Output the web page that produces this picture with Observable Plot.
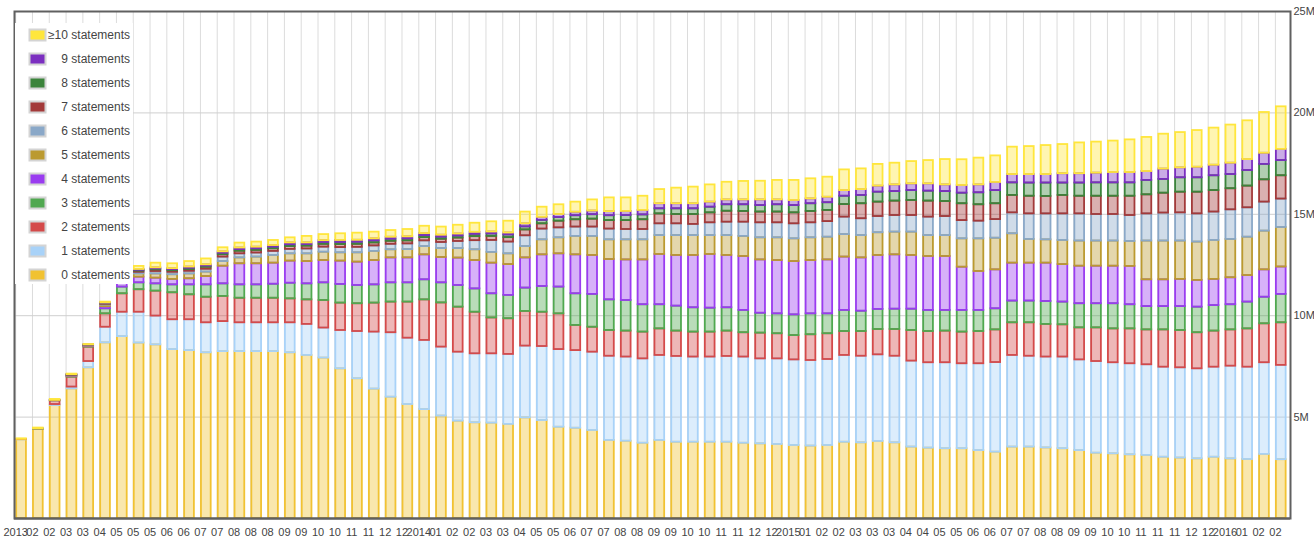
<!DOCTYPE html>
<html><head><meta charset="utf-8">
<script src="https://cdn.jsdelivr.net/npm/d3@7"></script>
<script src="https://cdn.jsdelivr.net/npm/@observablehq/plot@0.6"></script>
<style>
html,body{margin:0;padding:0;background:#fff;}
#chart{position:relative;width:1314px;height:539px;}
</style></head><body><div id="chart"></div>
<script>
const seriesNames = ["0 statements","1 statements","2 statements","3 statements","4 statements","5 statements","6 statements","7 statements","8 statements","9 statements","≥10 statements"];
const seriesColors = ["#f1c232","#a8d2f8","#d44a4a","#50a850","#9a3cf0","#bb9a30","#8aa8c8","#a33a3a","#3b843b","#7b2fc0","#ffe63c"];
const dateLabels = [
 "2013","02","02","03","03","04","05","05","05","06","06","07","07","08","08","08","09","09","10","10","11","11","12","12",
 "2014","01","02","02","03","03","04","05","05","06","07","07","08","08","09","09","10","10","11","11","12","12",
 "2015","01","02","02","03","03","03","04","04","05","05","06","06","07","07","08","08","09","09","10","10","11","11","11","12","12",
 "2016","01","02","02"];
// values in millions
const s0 = [3.88,4.39,5.57,6.39,7.43,8.66,8.97,8.65,8.56,8.33,
 8.28,8.17,8.23,8.23,8.23,8.23,8.17,8.04,7.91,7.38,
 6.89,6.38,5.98,5.62,5.37,5.05,4.80,4.72,4.70,4.64,
 4.96,4.83,4.50,4.45,4.34,3.85,3.81,3.71,3.85,3.76,
 3.76,3.76,3.76,3.71,3.68,3.65,3.60,3.57,3.60,3.76,
 3.73,3.80,3.73,3.52,3.47,3.44,3.44,3.35,3.27,3.52,
 3.52,3.48,3.44,3.35,3.22,3.19,3.14,3.11,3.02,2.98,
 2.94,3.02,2.94,2.91,3.16,2.90];
const s1 = [0.01,0.01,0.05,0.09,0.31,0.77,1.20,1.52,1.42,1.47,
 1.52,1.48,1.48,1.42,1.42,1.42,1.48,1.53,1.48,1.89,
 2.33,2.81,3.18,3.27,3.41,3.40,3.40,3.40,3.42,3.45,
 3.54,3.65,3.83,3.83,3.86,4.15,4.15,4.16,4.19,4.23,
 4.20,4.20,4.23,4.25,4.19,4.22,4.22,4.22,4.24,4.28,
 4.27,4.27,4.27,4.24,4.21,4.24,4.19,4.28,4.42,4.52,
 4.48,4.48,4.52,4.47,4.52,4.49,4.49,4.47,4.44,4.45,
 4.44,4.44,4.57,4.55,4.52,4.65];
const s2 = [0.01,0.01,0.18,0.49,0.71,0.66,0.91,1.11,1.23,1.33,
 1.23,1.26,1.24,1.21,1.21,1.21,1.18,1.21,1.36,1.35,
 1.37,1.43,1.51,1.78,2.00,2.18,2.22,2.05,1.77,1.76,
 1.71,1.69,1.76,1.24,1.23,1.27,1.28,1.32,1.31,1.25,
 1.23,1.23,1.25,1.20,1.27,1.24,1.20,1.27,1.27,1.18,
 1.22,1.25,1.32,1.51,1.54,1.56,1.56,1.59,1.61,1.61,
 1.65,1.61,1.59,1.58,1.66,1.67,1.72,1.72,1.84,1.84,
 1.78,1.78,1.79,1.89,1.92,2.10];
const s3 = [0,0.01,0.01,0.03,0.03,0.25,0.33,0.34,0.36,0.39,
 0.49,0.61,0.62,0.66,0.66,0.69,0.77,0.79,0.87,0.92,
 0.90,0.90,0.95,0.95,0.99,0.99,1.07,1.15,1.19,1.15,
 1.15,1.27,1.32,1.56,1.62,1.51,1.51,1.35,1.19,1.23,
 1.20,1.18,1.15,1.10,0.98,0.98,1.02,1.03,0.98,1.04,
 1.00,0.99,1.00,1.05,1.04,1.02,1.07,1.04,1.04,1.07,
 1.07,1.13,1.12,1.19,1.19,1.24,1.19,1.15,1.15,1.18,
 1.26,1.26,1.24,1.32,1.31,1.40];
const s4 = [0,0,0.01,0.02,0.02,0.11,0.28,0.28,0.28,0.27,
 0.30,0.41,0.87,1.04,1.04,1.04,1.09,1.10,1.10,1.15,
 1.15,1.20,1.23,1.23,1.23,1.25,1.35,1.40,1.51,1.52,
 1.49,1.56,1.64,1.92,1.92,1.99,2.00,2.21,2.48,2.50,
 2.58,2.65,2.58,2.66,2.63,2.63,2.63,2.63,2.66,2.63,
 2.63,2.66,2.68,2.65,2.66,2.66,2.13,1.92,1.92,1.87,
 1.87,1.89,1.85,1.85,1.85,1.85,1.89,1.32,1.32,1.34,
 1.32,1.29,1.33,1.31,1.35,1.35];
const s5 = [0,0,0.01,0.02,0.02,0.07,0.22,0.16,0.21,0.23,
 0.24,0.22,0.23,0.29,0.33,0.38,0.36,0.38,0.41,0.41,
 0.46,0.45,0.40,0.41,0.41,0.44,0.47,0.53,0.53,0.53,
 0.56,0.74,0.79,0.91,0.94,0.97,0.99,0.99,0.93,0.98,
 0.98,0.93,0.98,0.99,1.09,1.12,1.12,1.12,1.12,1.11,
 1.10,1.12,1.12,1.15,1.03,1.03,1.40,1.61,1.56,1.45,
 1.17,1.15,1.19,1.24,1.24,1.24,1.23,1.91,1.91,1.89,
 1.89,1.92,1.89,1.89,1.91,1.95];
const s6 = [0,0,0,0.01,0.01,0.04,0.10,0.08,0.12,0.12,
 0.13,0.14,0.22,0.20,0.20,0.20,0.22,0.24,0.25,0.26,
 0.27,0.27,0.27,0.28,0.28,0.30,0.35,0.45,0.59,0.58,
 0.53,0.53,0.49,0.46,0.46,0.53,0.51,0.51,0.58,0.58,
 0.55,0.63,0.66,0.70,0.74,0.74,0.74,0.74,0.77,0.86,
 0.83,0.80,0.82,0.82,0.91,0.94,0.90,0.87,0.92,1.03,
 1.26,1.28,1.31,1.34,1.31,1.31,1.28,1.34,1.38,1.39,
 1.39,1.40,1.46,1.45,1.43,1.40];
const s7 = [0,0,0,0.02,0.01,0.03,0.08,0.06,0.08,0.08,
 0.09,0.10,0.12,0.13,0.13,0.13,0.14,0.14,0.14,0.15,
 0.15,0.15,0.15,0.15,0.16,0.16,0.17,0.20,0.20,0.22,
 0.29,0.26,0.33,0.36,0.39,0.42,0.44,0.48,0.49,0.46,
 0.49,0.49,0.54,0.53,0.53,0.53,0.54,0.56,0.55,0.62,
 0.74,0.71,0.71,0.74,0.79,0.74,0.83,0.81,0.78,0.86,
 0.87,0.86,0.91,0.87,0.90,0.90,0.95,0.94,0.98,1.02,
 1.07,1.06,1.04,1.07,1.10,1.15];
const s8 = [0,0,0,0.01,0.01,0.02,0.05,0.04,0.05,0.05,
 0.06,0.06,0.07,0.08,0.08,0.08,0.09,0.08,0.09,0.10,
 0.10,0.10,0.10,0.10,0.10,0.10,0.10,0.11,0.12,0.13,
 0.15,0.17,0.18,0.20,0.22,0.24,0.25,0.24,0.25,0.28,
 0.28,0.28,0.32,0.33,0.32,0.36,0.36,0.38,0.38,0.41,
 0.41,0.49,0.47,0.49,0.49,0.49,0.52,0.59,0.65,0.62,
 0.65,0.66,0.61,0.65,0.66,0.66,0.66,0.71,0.68,0.71,
 0.71,0.73,0.70,0.77,0.76,0.75];
const s9 = [0,0,0,0.01,0.01,0.02,0.05,0.04,0.05,0.05,
 0.06,0.06,0.07,0.08,0.08,0.08,0.09,0.08,0.09,0.10,
 0.10,0.10,0.10,0.10,0.10,0.10,0.10,0.10,0.10,0.10,
 0.15,0.15,0.15,0.17,0.18,0.20,0.20,0.22,0.25,0.25,
 0.25,0.25,0.24,0.24,0.28,0.24,0.25,0.24,0.27,0.28,
 0.29,0.30,0.33,0.33,0.36,0.33,0.38,0.39,0.40,0.41,
 0.42,0.42,0.46,0.46,0.48,0.51,0.51,0.44,0.51,0.49,
 0.52,0.52,0.56,0.54,0.55,0.55];
const s10 = [0.03,0.04,0.04,0.03,0.02,0.04,0.15,0.15,0.23,0.24,
 0.27,0.29,0.20,0.24,0.25,0.25,0.25,0.32,0.30,0.33,
 0.35,0.33,0.33,0.36,0.36,0.40,0.43,0.45,0.50,0.58,
 0.58,0.50,0.48,0.50,0.55,0.68,0.67,0.70,0.70,0.77,
 0.82,0.85,0.87,0.91,0.92,0.96,0.99,0.99,0.99,1.02,
 1.02,1.07,1.07,1.10,1.15,1.25,1.27,1.32,1.31,1.35,
 1.38,1.43,1.44,1.52,1.53,1.55,1.61,1.68,1.72,1.74,
 1.81,1.83,1.88,1.91,2.01,2.10];
const yTicks = [5,10,15,20,25];

const seriesValues = [s0,s1,s2,s3,s4,s5,s6,s7,s8,s9,s10];
const rows = [];
dateLabels.forEach((lab, i) => seriesValues.forEach((vals, k) =>
  rows.push({i, label: lab, series: seriesNames[k], value: vals[i]})));
const idx = dateLabels.map((_, i) => i);

const chart = Plot.plot({
  width: 1314, height: 539,
  marginTop: 11, marginBottom: 21, marginLeft: 14, marginRight: 24,
  style: {fontFamily: "'Liberation Sans', Arial, sans-serif", fontSize: "11px", color: "#444", background: "#fff"},
  x: {type: "linear", domain: [-0.07, 75.9]},
  y: {domain: [0, 25]},
  color: {domain: seriesNames, range: seriesColors},
  marks: [
    Plot.gridX(idx, {stroke: "#dcdcdc", strokeOpacity: 1}),
    Plot.gridY([5,10,15,20], {stroke: "#cfcfcf", strokeOpacity: 1}),
    Plot.rectY(rows, {x1: d => d.i + 0.06, x2: d => d.i + 0.64, y: "value", z: "series", order: seriesNames,
      fill: "series", fillOpacity: 0.4, stroke: "series", strokeWidth: 1.8}),
    Plot.ruleY([0], {stroke: "#555", strokeWidth: 2}),
    Plot.frame({stroke: "#606060", strokeWidth: 2}),
    Plot.axisX(idx, {tickFormat: i => dateLabels[i], tickSize: 0, tickPadding: 10, fontSize: 11, label: null}),
    Plot.axisY(yTicks, {anchor: "right", tickFormat: d => d + "M", tickSize: 0, tickPadding: 3, label: null, fontSize: 11})
  ]
});
document.getElementById("chart").appendChild(chart);

// legend (drawn over the plot, as in the original)
const svg = d3.select(chart);
const lg = svg.append("g").attr("font-family", "'Liberation Sans', Arial, sans-serif");
lg.append("rect").attr("x", 15).attr("y", 23).attr("width", 118).attr("height", 261).attr("fill", "#fff");
seriesNames.slice().reverse().forEach((name, j) => {
  const cy = 35 + 24 * j;
  const color = seriesColors[seriesNames.length - 1 - j];
  lg.append("rect").attr("x", 29.5).attr("y", cy - 5.5).attr("width", 16).attr("height", 11)
    .attr("fill", color).attr("stroke", "#d4d4d4").attr("stroke-width", 2);
  lg.append("text").attr("x", 130).attr("y", cy).attr("dy", "0.35em").attr("text-anchor", "end")
    .attr("font-size", 12).attr("fill", "#444").text(name);
});
</script></body></html>
